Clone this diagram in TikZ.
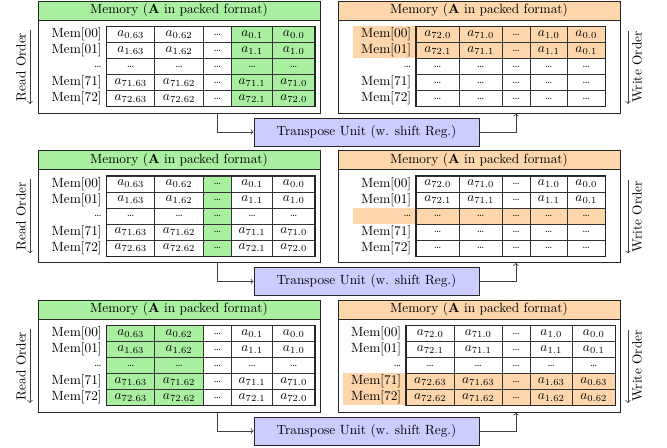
\documentclass[tikz,border=0pt]{standalone}
\usetikzlibrary{matrix,positioning}

\definecolor{memgreen}{RGB}{168,240,160}
\definecolor{mempeach}{RGB}{253,214,172}
\definecolor{tulilac}{RGB}{204,204,255}

\newcommand\dts{{\footnotesize\dots}}
\newcommand\memhead{Memory (\textbf{A} in packed format)}
% matrix bodies (\& as cell separator)
\newcommand\readbody{%
Mem[00] \& $a_{0.63}$ \& $a_{0.62}$ \& \dts \& $a_{0.1}$ \& $a_{0.0}$ \\
Mem[01] \& $a_{1.63}$ \& $a_{1.62}$ \& \dts \& $a_{1.1}$ \& $a_{1.0}$ \\
\dts \& \dts \& \dts \& \dts \& \dts \& \dts \\
Mem[71] \& $a_{71.63}$ \& $a_{71.62}$ \& \dts \& $a_{71.1}$ \& $a_{71.0}$ \\
Mem[72] \& $a_{72.63}$ \& $a_{72.62}$ \& \dts \& $a_{72.1}$ \& $a_{72.0}$ \\}
\newcommand\writebody{%
Mem[00] \& $a_{72.0}$ \& $a_{71.0}$ \& \dts \& $a_{1.0}$ \& $a_{0.0}$ \\
Mem[01] \& $a_{72.1}$ \& $a_{71.1}$ \& \dts \& $a_{1.1}$ \& $a_{0.1}$ \\
\dts \& \dts \& \dts \& \dts \& \dts \& \dts \\}
\newcommand\writebodyend{%
Mem[71] \& \dts \& \dts \& \dts \& \dts \& \dts \\
Mem[72] \& \dts \& \dts \& \dts \& \dts \& \dts \\}
\newcommand\writebodylast{%
Mem[71] \& $a_{72.63}$ \& $a_{71.63}$ \& \dts \& $a_{1.63}$ \& $a_{0.63}$ \\
Mem[72] \& $a_{72.62}$ \& $a_{71.62}$ \& \dts \& $a_{1.62}$ \& $a_{0.62}$ \\}

\begin{document}
\begin{tikzpicture}[x=0.75pt, y=-0.75pt,
                mem/.style = {draw=black!85, line width=0.7pt, minimum width=211.5pt, minimum height=84pt, inner sep=0pt},
                head/.style = {draw=black!85, line width=0.7pt, minimum width=211.5pt, minimum height=14.25pt, inner sep=0pt, anchor=north},
                tu/.style = {draw=black!85, line width=0.7pt, fill=tulilac, minimum width=168.75pt, minimum height=21pt},
                arr/.style = {draw=black!75, line width=0.6pt, ->},
                tabframe/.style = {draw=black!85, line width=0.8pt},
                tab/.style = {matrix of nodes, ampersand replacement=\&, column sep=-0.4pt, row sep=-0.4pt,
                    nodes={draw=black!80, line width=0.4pt, minimum height=12pt, inner sep=0pt, anchor=center},
                    column 1/.style={nodes={draw=none, text width=40pt, align=right, inner xsep=4pt}}},
                colsL/.style = {column 2/.style={nodes={minimum width=36pt}}, column 3/.style={nodes={minimum width=36.5pt}},
                    column 4/.style={nodes={minimum width=21pt}}, column 5/.style={nodes={minimum width=31pt}},
                    column 6/.style={nodes={minimum width=31.5pt}}},
                colsRa/.style = {column 2/.style={nodes={minimum width=32.25pt}}, column 3/.style={nodes={minimum width=32.25pt}},
                    column 4/.style={nodes={minimum width=21pt}}, column 5/.style={nodes={minimum width=27.75pt}},
                    column 6/.style={nodes={minimum width=28.5pt}}},
                colsRb/.style = {column 2/.style={nodes={minimum width=36pt}}, column 3/.style={nodes={minimum width=36pt}},
                    column 4/.style={nodes={minimum width=21pt}}, column 5/.style={nodes={minimum width=31.5pt}},
                    column 6/.style={nodes={minimum width=32.25pt}}},
            ]
            \useasboundingbox (0,0) rectangle (667,448);

            % first step
            \node (memL1) [mem] at (179,57) {};
            \node (hdL1) [head, fill=memgreen] at (memL1.north) {\memhead};
            \matrix (tabL1) [tab, colsL, column 5/.append style={nodes={fill=memgreen}},
                column 6/.append style={nodes={fill=memgreen}}] at (179,66.5) {\readbody};
            \draw[tabframe] (tabL1-1-2.north west) rectangle (tabL1-5-6.south east);

            \node (memR1) [mem] at (479,57) {};
            \node (hdR1) [head, fill=mempeach] at (memR1.north) {\memhead};
            \matrix (tabR1) [tab, colsRa, row 1/.style={nodes={fill=mempeach}},
                row 2/.style={nodes={fill=mempeach}}] at (479,66.5) {\writebody\writebodyend};
            \draw[tabframe] (tabR1-1-2.north west) rectangle (tabR1-5-6.south east);

            \node (tu1) [tu] at (366.5,132) {Transpose Unit (w. shift Reg.)};
            \path[arr] ([xshift=28.5pt]memL1.south) |- (tu1.west);
            \path[arr] (tu1.east) -| ([xshift=27.75pt]memR1.south);

            \coordinate (rdA1) at (30,30);
            \coordinate (rdB1) at (30,104);
            \path[arr] (rdA1) -- (rdB1);
            \node (rd1) [rotate=90] at (21,67) {Read Order};
            \coordinate (wrA1) at (628,31);
            \coordinate (wrB1) at (628,104);
            \path[arr] (wrA1) -- (wrB1);
            \node (wr1) [rotate=90] at (637,67) {Write Order};

            % second step
            \node (memL2) [mem] at (179,206.5) {};
            \node (hdL2) [head, fill=memgreen] at (memL2.north) {\memhead};
            \matrix (tabL2) [tab, colsL, column 4/.append style={nodes={fill=memgreen}}] at (179,216) {\readbody};
            \draw[tabframe] (tabL2-1-2.north west) rectangle (tabL2-5-6.south east);

            \node (memR2) [mem] at (479,206.5) {};
            \node (hdR2) [head, fill=mempeach] at (memR2.north) {\memhead};
            \matrix (tabR2) [tab, colsRa, row 3/.style={nodes={fill=mempeach}}] at (479,216) {\writebody\writebodyend};
            \draw[tabframe] (tabR2-1-2.north west) rectangle (tabR2-5-6.south east);

            \node (tu2) [tu] at (366.5,281.5) {Transpose Unit (w. shift Reg.)};
            \path[arr] ([xshift=28.5pt]memL2.south) |- (tu2.west);
            \path[arr] (tu2.east) -| ([xshift=27.75pt]memR2.south);

            \coordinate (rdA2) at (30,179.5);
            \coordinate (rdB2) at (30,253.5);
            \path[arr] (rdA2) -- (rdB2);
            \node (rd2) [rotate=90] at (21,216.5) {Read Order};
            \coordinate (wrA2) at (628,180.5);
            \coordinate (wrB2) at (628,253.5);
            \path[arr] (wrA2) -- (wrB2);
            \node (wr2) [rotate=90] at (637,216.5) {Write Order};

            % last step
            \node (memL3) [mem] at (179,356) {};
            \node (hdL3) [head, fill=memgreen] at (memL3.north) {\memhead};
            \matrix (tabL3) [tab, colsL, column 2/.append style={nodes={fill=memgreen}},
                column 3/.append style={nodes={fill=memgreen}}] at (179,365.5) {\readbody};
            \draw[tabframe] (tabL3-1-2.north west) rectangle (tabL3-5-6.south east);

            \node (memR3) [mem] at (479,356) {};
            \node (hdR3) [head, fill=mempeach] at (memR3.north) {\memhead};
            \matrix (tabR3) [tab, colsRb, row 4/.style={nodes={fill=mempeach}},
                row 5/.style={nodes={fill=mempeach}}] at (479,365.5) {\writebody\writebodylast};
            \draw[tabframe] (tabR3-1-2.north west) rectangle (tabR3-5-6.south east);

            \node (tu3) [tu] at (366.5,431) {Transpose Unit (w. shift Reg.)};
            \path[arr] ([xshift=28.5pt]memL3.south) |- (tu3.west);
            \path[arr] (tu3.east) -| ([xshift=27.75pt]memR3.south);

            \coordinate (rdA3) at (30,329);
            \coordinate (rdB3) at (30,403);
            \path[arr] (rdA3) -- (rdB3);
            \node (rd3) [rotate=90] at (21,366) {Read Order};
            \coordinate (wrA3) at (628,330);
            \coordinate (wrB3) at (628,403);
            \path[arr] (wrA3) -- (wrB3);
            \node (wr3) [rotate=90] at (637,366) {Write Order};
\end{tikzpicture}
\end{document}
